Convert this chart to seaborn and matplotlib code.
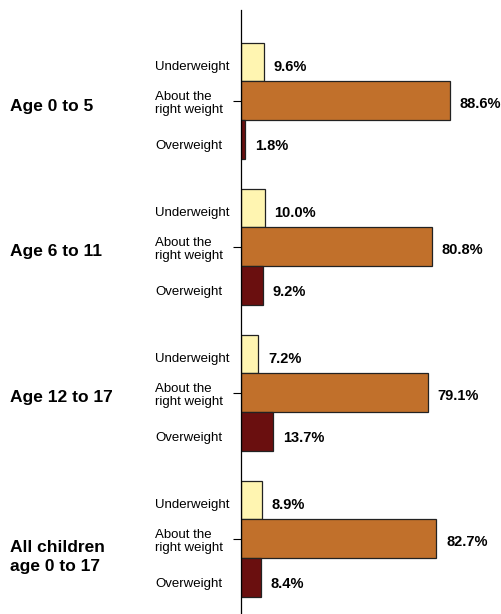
import matplotlib
matplotlib.use("Agg")
import matplotlib.pyplot as plt
import matplotlib.transforms as mtrans
import seaborn as sns
import pandas as pd

groups = ["Age 0 to 5", "Age 6 to 11", "Age 12 to 17", "All children\nage 0 to 17"]
weights = ["Underweight", "About the\nright weight", "Overweight"]
underweight = [9.6, 10.0, 7.2, 8.9]
about_right = [88.6, 80.8, 79.1, 82.7]
overweight = [1.8, 9.2, 13.7, 8.4]
colors = ["#FFF5B1", "#C1702B", "#6A0F0F"]

rows = []
for g, u, a, o in zip(groups, underweight, about_right, overweight):
    for w, v in zip(weights, [u, a, o]):
        rows.append({"group": g, "weight": w, "value": v})
df = pd.DataFrame(rows)

sns.set_style("white")
plt.rcParams['font.family'] = ['Liberation Sans', 'DejaVu Sans']
plt.rcParams['text.color'] = 'black'

fig = plt.figure(figsize=(5.02, 6.14), dpi=100)
ax = fig.add_axes([241/502, 0, 1 - 241/502, 1 - 10/614])
sns.barplot(data=df, y="group", x="value", hue="weight", order=groups,
            hue_order=weights, palette=colors, orient="h", width=0.8,
            saturation=1, edgecolor="#222222", linewidth=0.9, ax=ax, legend=False)

ax.set_xlim(0, 110.6)
ax.set_ylim(3.514, -0.623)
ax.set_xlabel("")
ax.set_ylabel("")
ax.set_yticklabels([])
ax.set_xticks([])
for s in ["top", "right", "bottom"]:
    ax.spines[s].set_visible(False)
ax.spines["left"].set_color("black")
ax.spines["left"].set_linewidth(0.9)
ax.tick_params(axis="y", left=True, length=6, width=0.8, color="black", direction="out")

bw = 0.8 / 3
trans = mtrans.blended_transform_factory(fig.transFigure, ax.transData)
group_offsets = [0.04, 0.03, 0.03, 0.125]
sub_offsets = [0.035, 0.02, 0.04]
for gi, g in enumerate(groups):
    ax.text(10/502, gi + group_offsets[gi], g, transform=trans, ha="left", va="center",
            fontsize=12.5, fontweight="bold", linespacing=1.3, color="black")
    vals = [underweight[gi], about_right[gi], overweight[gi]]
    for wi, (w, v) in enumerate(zip(weights, vals)):
        yc = gi + (wi - 1) * bw + sub_offsets[wi]
        ax.text(155/502, yc, w, transform=trans, ha="left", va="center",
                fontsize=9.5, linespacing=1.1, color="black")
        ax.text(v + 4.2, yc, f"{v:.1f}%", ha="left", va="center",
                fontsize=10.5, fontweight="bold", color="black")

fig.savefig("out.png", dpi=100)
